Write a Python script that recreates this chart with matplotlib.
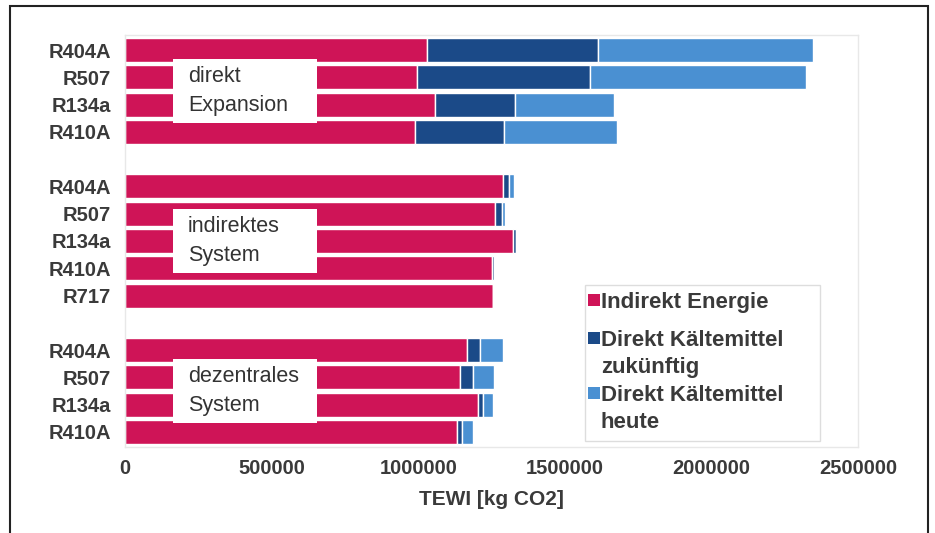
import matplotlib
matplotlib.use("Agg")
import matplotlib.pyplot as plt
from matplotlib.patches import Rectangle
import numpy as np

plt.rcParams['font.family'] = ['Liberation Sans', 'DejaVu Sans']

# Refrigerants per system group (top to bottom)
groups = ["direkt\nExpansion", "indirektes\nSystem", "dezentrales\nSystem"]
refr_direkt = ["R404A", "R507", "R134a", "R410A"]
refr_indirekt = ["R404A", "R507", "R134a", "R410A", "R717"]
refr_dezentral = ["R404A", "R507", "R134a", "R410A"]

# TEWI contributions [kg CO2]
energie_direkt = [1030000, 996000, 1057000, 989000]
zukunft_direkt = [583000, 590000, 273000, 304000]
heute_direkt = [734000, 737000, 338000, 385000]

energie_indirekt = [1289000, 1262000, 1323000, 1252000, 1255000]
zukunft_indirekt = [21000, 24000, 11000, 7000, 0]
heute_indirekt = [17000, 10000, 0, 0, 0]

energie_dezentral = [1166000, 1143000, 1204000, 1132000]
zukunft_dezentral = [45000, 44000, 17000, 17000]
heute_dezentral = [78000, 72000, 34000, 38000]

series_labels = ["Indirekt Energie", "Direkt Kältemittel\nzukünftig",
                 "Direkt Kältemittel\nheute"]
c_energie = "#CF1457"
c_zukunft = "#1B4A88"
c_heute = "#4A90D2"
series_colors = [c_energie, c_zukunft, c_heute]
txt = "#3a3a3a"

# build row positions with one blank slot between groups
labels, e_all, z_all, h_all, pos = [], [], [], [], []
slot = 0
group_slots = []
for refr, e, z, h in [(refr_direkt, energie_direkt, zukunft_direkt, heute_direkt),
                      (refr_indirekt, energie_indirekt, zukunft_indirekt, heute_indirekt),
                      (refr_dezentral, energie_dezentral, zukunft_dezentral, heute_dezentral)]:
    start = slot
    for i, r in enumerate(refr):
        labels.append(r)
        e_all.append(e[i]); z_all.append(z[i]); h_all.append(h[i])
        pos.append(slot)
        slot += 1
    group_slots.append((start, slot - 1))
    slot += 1

pos = np.array(pos, dtype=float)
e_all = np.array(e_all); z_all = np.array(z_all); h_all = np.array(h_all)

W, H = 935, 533
fig = plt.figure(figsize=(W / 100, H / 100), dpi=100)
ax = fig.add_axes([125 / W, 86 / H, 733 / W, 412 / H])

bh = 0.88
ax.barh(pos, e_all, height=bh, color=c_energie, edgecolor="white", linewidth=1.0,
        zorder=2)
ax.barh(pos, z_all, left=e_all, height=bh, color=c_zukunft, edgecolor="white",
        linewidth=1.0, zorder=2)
ax.barh(pos, h_all, left=e_all + z_all, height=bh, color=c_heute, edgecolor="white",
        linewidth=1.0, zorder=2)

ax.set_xlim(0, 2500000)
ax.set_ylim(14.55, -0.55)
ax.set_xticks(np.arange(0, 2500001, 500000))
ax.set_xticklabels([f"{v:d}" for v in range(0, 2500001, 500000)])
ax.set_yticks(pos)
ax.set_yticklabels(labels)
ax.tick_params(axis="both", length=0, labelsize=14.5, labelcolor=txt)
ax.tick_params(axis="y", pad=10)
ax.tick_params(axis="x", pad=9)
for lab in ax.get_xticklabels() + ax.get_yticklabels():
    lab.set_fontweight("bold")
for s in ax.spines.values():
    s.set_color("#e8e8e8")
    s.set_linewidth(1.0)
ax.set_xlabel("TEWI [kg CO2]", fontsize=15, fontweight="bold", color=txt, labelpad=8)

# white label boxes over each group
box_x0, box_x1 = 165000, 655000
for name, (s0, s1) in zip(groups, group_slots):
    yc = (s0 + s1) / 2.0
    ax.add_patch(Rectangle((box_x0, yc - 1.18), box_x1 - box_x0, 2.36,
                           facecolor="white", edgecolor="none", zorder=3))
    ax.text(box_x0 + 50000, yc, name, fontsize=15.5, color="#333333", va="center",
            ha="left", linespacing=1.45, zorder=4)


# legend box with swatches aligned to the first line of each entry
def fx(px):
    return px / W


def fy(py):
    return 1 - py / H


fig.add_artist(Rectangle((fx(585), fy(441)), fx(820) - fx(585), fy(285) - fy(441),
                         transform=fig.transFigure, facecolor="white",
                         edgecolor="#dddddd", linewidth=1.0, zorder=5))
line_h = 27.5
y_cursor = 300
for lbl, col in zip(series_labels, series_colors):
    nlines = lbl.count("\n") + 1
    fig.add_artist(Rectangle((fx(588), fy(y_cursor + 6)), fx(600) - fx(588),
                             fy(y_cursor - 6) - fy(y_cursor + 6),
                             transform=fig.transFigure, facecolor=col,
                             edgecolor="none", zorder=6))
    for k, part in enumerate(lbl.split("\n")):
        fig.text(fx(601), fy(y_cursor + k * line_h), part, fontsize=16,
                 fontweight="bold", color=txt, va="center_baseline", ha="left",
                 zorder=7)
    y_cursor += line_h * nlines + (10.5 if nlines == 1 else 0)

# outer frame of the figure
fig.add_artist(Rectangle((10 / W, -0.05), 918 / W, (H - 6) / H + 0.05,
                         transform=fig.transFigure, fill=False,
                         edgecolor="#222222", linewidth=1.5))

fig.savefig("out.png", dpi=100)
